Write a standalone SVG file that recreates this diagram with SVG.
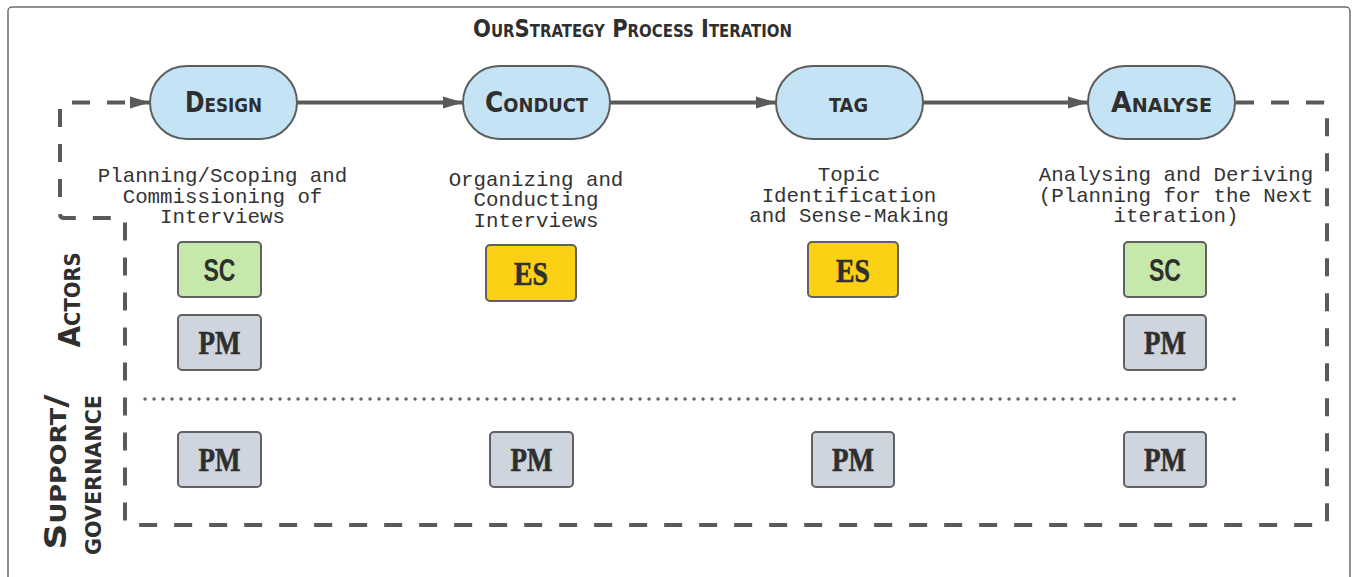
<svg xmlns="http://www.w3.org/2000/svg" width="1353" height="577" viewBox="0 0 1353 577">
<style>
.frame{fill:#fff;stroke:#6b6b6b;stroke-width:1.5}
.node{fill:#c4e4f6;stroke:#5e5e5e;stroke-width:2}
.box{stroke:#616161;stroke-width:2}
.sc{fill:#c6e9ab}.pm{fill:#cfd5de}.es{fill:#fbd015}
.head{font-family:"Liberation Sans Narrow","DejaVu Sans Condensed","Liberation Sans",sans-serif;font-weight:bold;font-variant:small-caps;fill:#2f2f2f}
.desc{font-family:"Liberation Mono","Courier New",monospace;font-size:20.8px;fill:#333;text-anchor:middle}
.slab{font-family:"Liberation Serif","DejaVu Serif",serif;font-weight:bold;font-size:33px;fill:#2f2f2f;text-anchor:middle;stroke:#2f2f2f;stroke-width:0.6}
.sans{font-family:"Liberation Sans Narrow","Liberation Sans",sans-serif;font-weight:bold;font-size:32px;fill:#2f2f2f;text-anchor:middle}
.flow{fill:none;stroke:#5a5a5a;stroke-width:4}
.loop{fill:none;stroke:#5a5a5a;stroke-width:4;stroke-dasharray:18 17}
.sep{fill:none;stroke:#666;stroke-width:3.4;stroke-linecap:round;stroke-dasharray:0.1 8.9}
</style>
<defs>
<marker id="arr" markerUnits="userSpaceOnUse" markerWidth="22" markerHeight="14" refX="20" refY="7" orient="auto">
<path d="M0,1 L20,7 L0,13 Z" fill="#5a5a5a"/>
</marker>
</defs>
<rect class="frame" x="8" y="7" width="1342" height="590" rx="4"/>
<text class="head" x="632.5" y="37" font-size="24" text-anchor="middle" textLength="319" lengthAdjust="spacingAndGlyphs">OurStrategy Process Iteration</text>
<g id="connectors">
<path class="flow" d="M297,102.5 H463" marker-end="url(#arr)"/>
<path class="flow" d="M610,102.5 H776" marker-end="url(#arr)"/>
<path class="flow" d="M923,102.5 H1088" marker-end="url(#arr)"/>
<path class="loop" d="M1236,102.5 H1323 Q1327,102.5 1327,106.5 V521 Q1327,525 1323,525 H129 Q125,525 125,521 V222 Q125,218 121,218 H64 Q60,218 60,214 V106.5 Q60,102.5 64,102.5 H150" marker-end="url(#arr)"/>
<path class="sep" d="M145,399 H1242"/>
</g>
<g id="design">
<rect class="node" x="150" y="66" width="147" height="73" rx="36.5"/>
<text class="head" x="223.5" y="112" font-size="28" text-anchor="middle" textLength="77" lengthAdjust="spacingAndGlyphs">Design</text>
<text class="desc"><tspan x="222.5" y="182">Planning/Scoping and</tspan><tspan x="222.5" y="202.5">Commissioning of</tspan><tspan x="222.5" y="223">Interviews</tspan></text>
</g>
<g id="conduct">
<rect class="node" x="463" y="66" width="147" height="73" rx="36.5"/>
<text class="head" x="536.5" y="112" font-size="28" text-anchor="middle" textLength="103" lengthAdjust="spacingAndGlyphs">Conduct</text>
<text class="desc"><tspan x="536" y="185.5">Organizing and</tspan><tspan x="536" y="206">Conducting</tspan><tspan x="536" y="226.5">Interviews</tspan></text>
</g>
<g id="tag">
<rect class="node" x="776" y="66" width="147" height="73" rx="36.5"/>
<text class="head" x="848.5" y="112" font-size="28" text-anchor="middle" textLength="39" lengthAdjust="spacingAndGlyphs">tag</text>
<text class="desc"><tspan x="849" y="181">Topic</tspan><tspan x="849" y="201.5">Identification</tspan><tspan x="849" y="222">and Sense-Making</tspan></text>
</g>
<g id="analyse">
<rect class="node" x="1088" y="66" width="147" height="73" rx="36.5"/>
<text class="head" x="1161.5" y="112" font-size="28" text-anchor="middle" textLength="101" lengthAdjust="spacingAndGlyphs">Analyse</text>
<text class="desc"><tspan x="1176" y="181">Analysing and Deriving</tspan><tspan x="1176" y="201.5">(Planning for the Next</tspan><tspan x="1176" y="222">iteration)</tspan></text>
</g>
<g id="lane-actors">
<text class="head" transform="translate(80,300) rotate(-90)" font-size="30" text-anchor="middle" textLength="95" lengthAdjust="spacingAndGlyphs">Actors</text>
</g>
<g id="lane-support">
<text class="head" transform="translate(66,472) rotate(-90)" font-size="31" text-anchor="middle" textLength="155" lengthAdjust="spacingAndGlyphs">Support/</text>
<text class="head" transform="translate(101,475) rotate(-90)" font-size="30" text-anchor="middle" textLength="160" lengthAdjust="spacingAndGlyphs">governance</text>
</g>
<g id="design-sc"><rect class="box sc" x="178" y="242" width="83" height="55" rx="4"/><text class="sans" x="219.5" y="281" textLength="32" lengthAdjust="spacingAndGlyphs">SC</text></g>
<g id="design-pm"><rect class="box pm" x="178" y="315" width="83" height="55" rx="4"/><text class="slab" x="219.5" y="354" textLength="42" lengthAdjust="spacingAndGlyphs">PM</text></g>
<g id="design-pm-support"><rect class="box pm" x="178" y="432" width="83" height="55" rx="4"/><text class="slab" x="219.5" y="471" textLength="42" lengthAdjust="spacingAndGlyphs">PM</text></g>
<g id="conduct-es"><rect class="box es" x="486" y="245" width="90" height="56" rx="4"/><text class="slab" x="531" y="285" textLength="34" lengthAdjust="spacingAndGlyphs">ES</text></g>
<g id="conduct-pm-support"><rect class="box pm" x="490" y="432" width="83" height="55" rx="4"/><text class="slab" x="531.5" y="471" textLength="42" lengthAdjust="spacingAndGlyphs">PM</text></g>
<g id="tag-es"><rect class="box es" x="808" y="242" width="90" height="55" rx="4"/><text class="slab" x="853" y="282" textLength="34" lengthAdjust="spacingAndGlyphs">ES</text></g>
<g id="tag-pm-support"><rect class="box pm" x="812" y="432" width="82" height="55" rx="4"/><text class="slab" x="853" y="471" textLength="42" lengthAdjust="spacingAndGlyphs">PM</text></g>
<g id="analyse-sc"><rect class="box sc" x="1124" y="242" width="82" height="55" rx="4"/><text class="sans" x="1165" y="281" textLength="32" lengthAdjust="spacingAndGlyphs">SC</text></g>
<g id="analyse-pm"><rect class="box pm" x="1124" y="315" width="82" height="55" rx="4"/><text class="slab" x="1165" y="354" textLength="42" lengthAdjust="spacingAndGlyphs">PM</text></g>
<g id="analyse-pm-support"><rect class="box pm" x="1124" y="432" width="82" height="55" rx="4"/><text class="slab" x="1165" y="471" textLength="42" lengthAdjust="spacingAndGlyphs">PM</text></g>
</svg>
